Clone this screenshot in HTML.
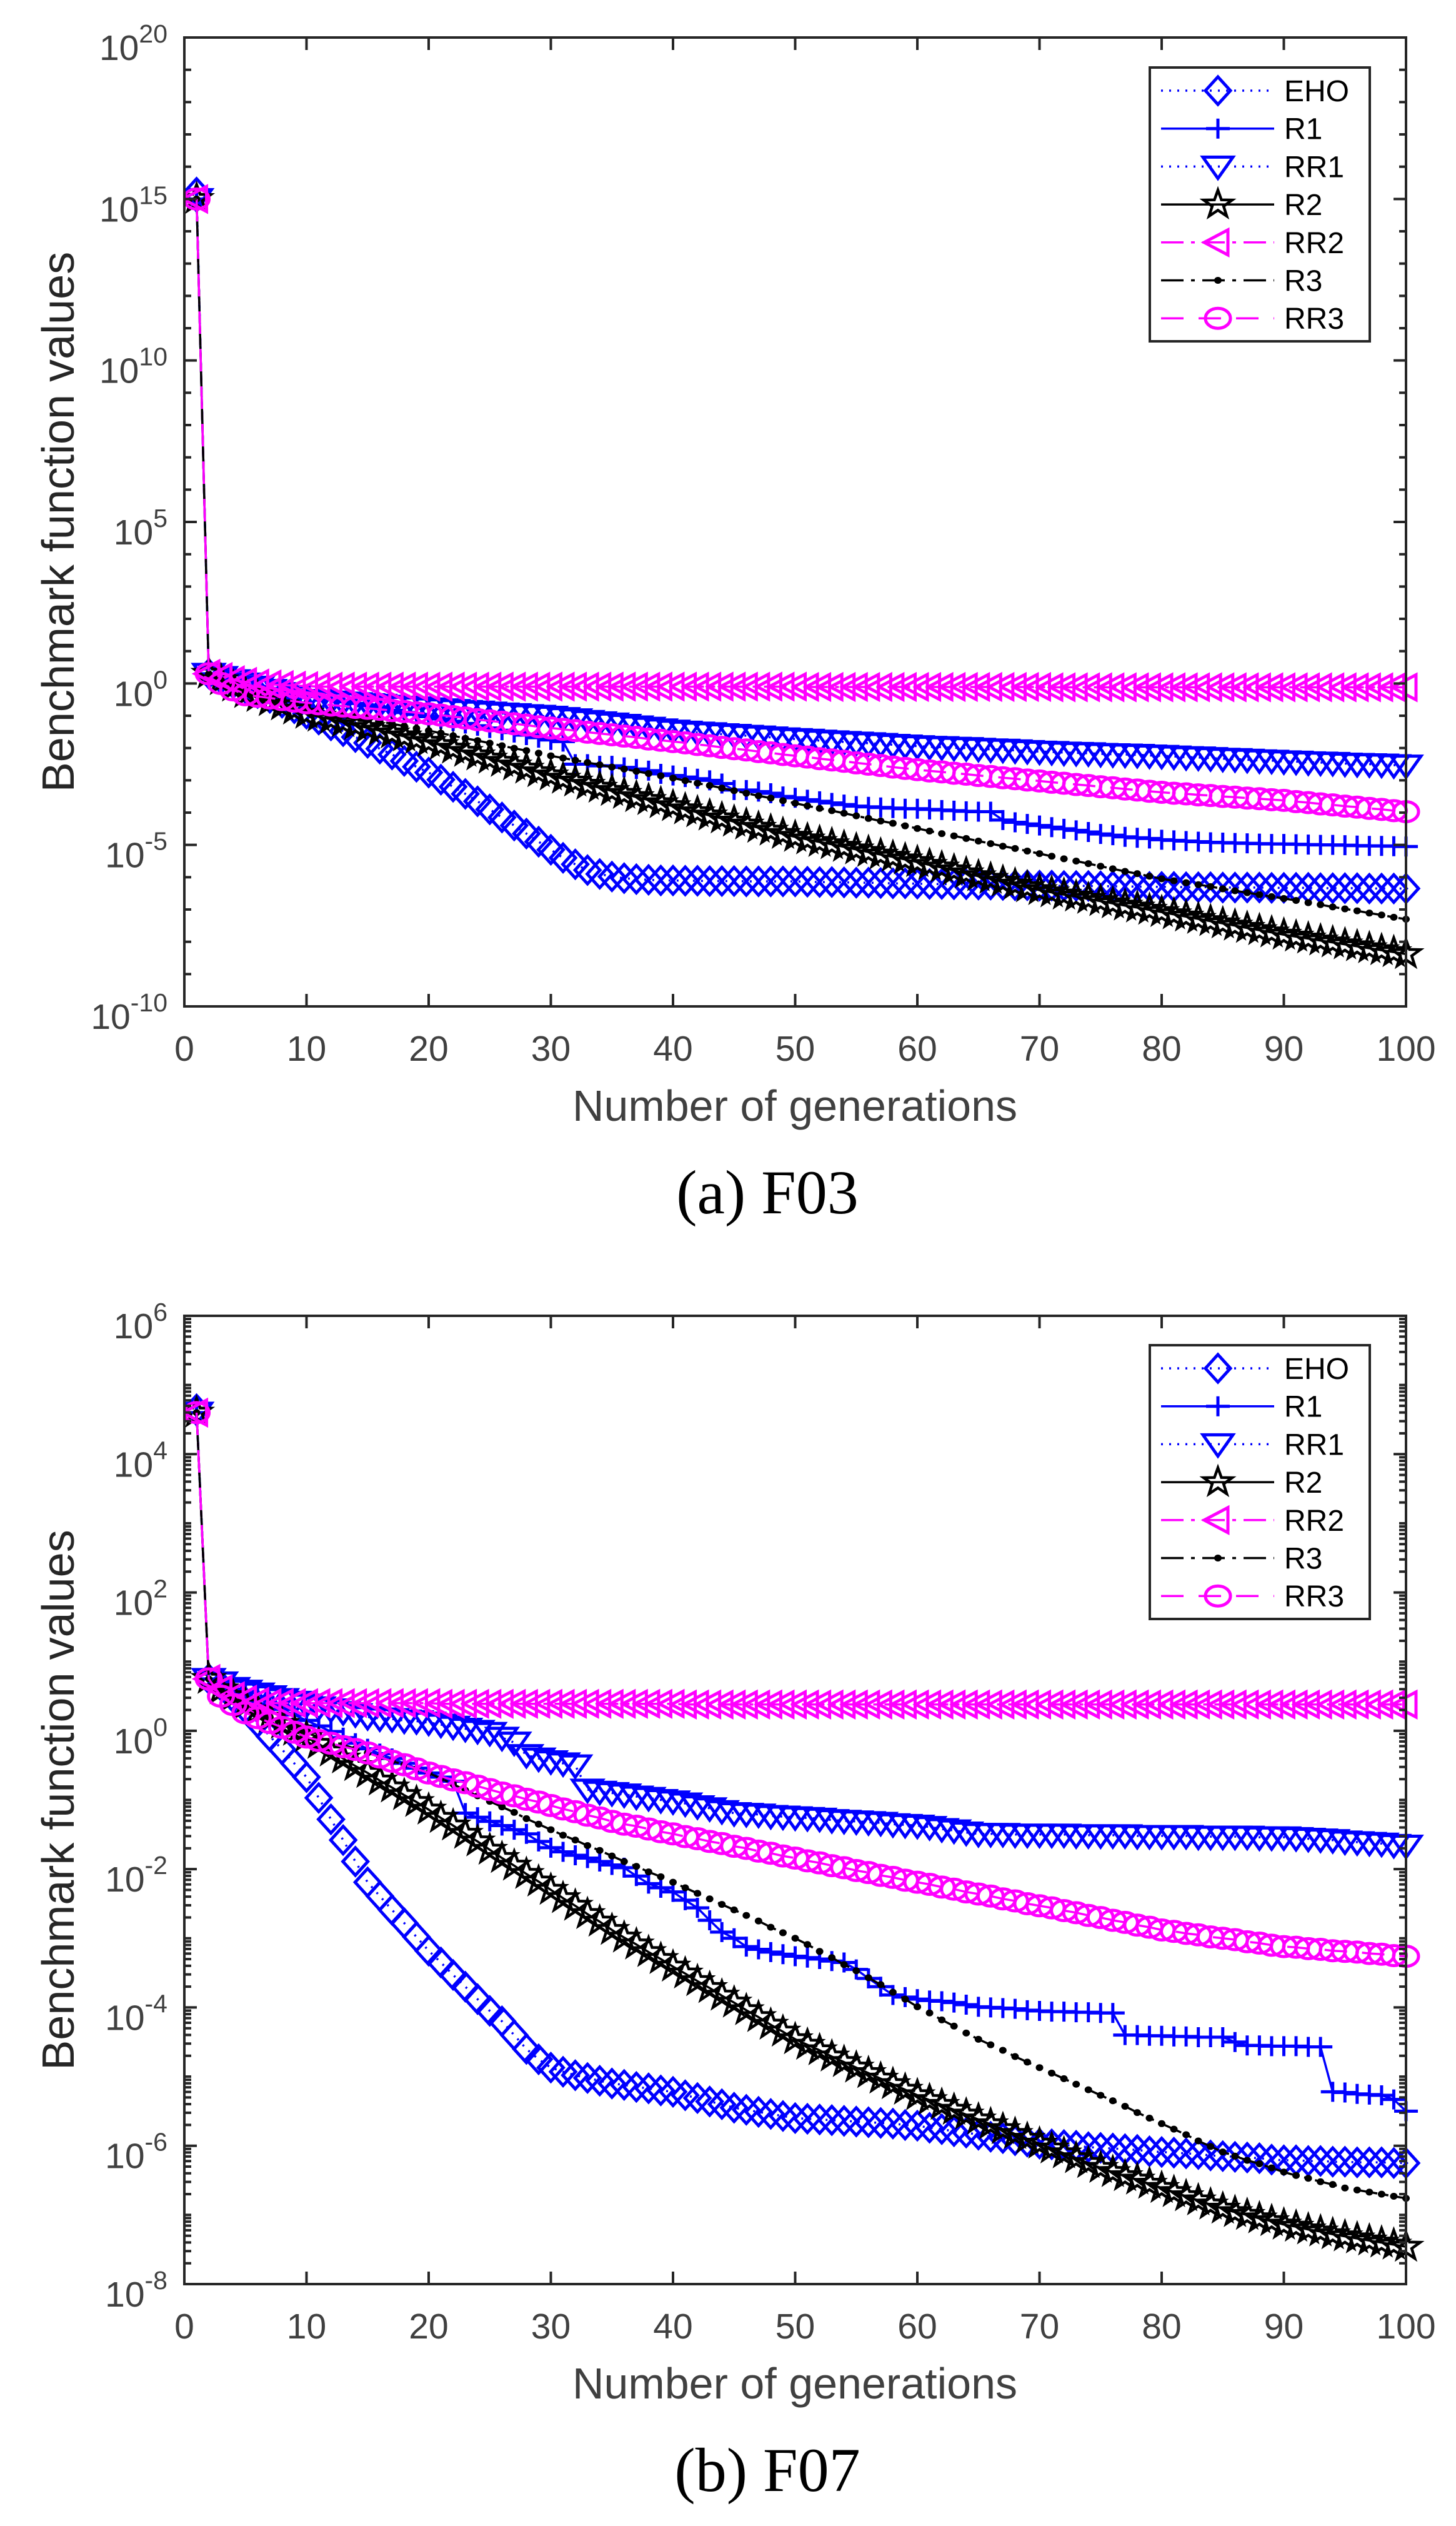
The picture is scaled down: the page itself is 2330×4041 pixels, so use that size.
<!DOCTYPE html>
<html>
<head>
<meta charset="utf-8">
<style>
html,body{margin:0;padding:0;background:#fff;}
svg{display:block;}
text{font-family:"Liberation Sans",Arial,sans-serif;}
text.serif{font-family:"Liberation Serif","Times New Roman",serif;}
</style>
</head>
<body>
<svg id="fig" width="2330" height="4041" viewBox="0 0 2330 4041" xmlns="http://www.w3.org/2000/svg"></svg>
<script>
// ---------- data (log10 of benchmark values, generations 1..100) ----------
const generations = Array.from({length:100},(_,i)=>i+1);
const seriesNames = ["EHO","R1","RR1","R2","RR2","R3","RR3"];

// F03
const f03_EHO = [15.2,0.3,0.15,0,-0.15,-0.3,-0.45,-0.6,-0.77,-0.94,-1.12,-1.3,-1.48,-1.66,-1.84,-2.02,-2.2,-2.4,-2.58,-2.76,-2.98,-3.2,-3.42,-3.65,-3.9,-4.15,-4.4,-4.65,-4.9,-5.15,-5.4,-5.6,-5.78,-5.9,-5.98,-6.03,-6.06,-6.08,-6.1,-6.1,-6.11,-6.11,-6.12,-6.12,-6.12,-6.13,-6.13,-6.13,-6.13,-6.13,-6.14,-6.15,-6.15,-6.16,-6.17,-6.17,-6.18,-6.19,-6.19,-6.2,-6.21,-6.21,-6.22,-6.22,-6.23,-6.23,-6.24,-6.25,-6.25,-6.26,-6.26,-6.27,-6.27,-6.27,-6.28,-6.28,-6.29,-6.29,-6.3,-6.3,-6.3,-6.31,-6.31,-6.31,-6.32,-6.32,-6.32,-6.32,-6.33,-6.33,-6.33,-6.33,-6.34,-6.34,-6.34,-6.34,-6.35,-6.35,-6.35,-6.35];
const f03_R1 = [15,0.3,0.2,0.05,-0.05,-0.1,-0.15,-0.2,-0.27,-0.34,-0.41,-0.48,-0.55,-0.62,-0.69,-0.76,-0.83,-0.9,-0.96,-1.03,-1.1,-1.17,-1.24,-1.31,-1.38,-1.45,-1.52,-1.6,-1.68,-1.75,-1.8,-2.5,-2.5,-2.55,-2.55,-2.6,-2.65,-2.7,-2.8,-2.85,-2.9,-2.95,-3,-3.1,-3.3,-3.3,-3.35,-3.4,-3.5,-3.54,-3.6,-3.65,-3.7,-3.75,-3.8,-3.82,-3.84,-3.86,-3.88,-3.88,-3.9,-3.92,-3.94,-3.96,-3.97,-3.97,-4.23,-4.3,-4.35,-4.4,-4.45,-4.5,-4.55,-4.6,-4.66,-4.7,-4.75,-4.78,-4.8,-4.84,-4.86,-4.88,-4.9,-4.92,-4.93,-4.94,-4.95,-4.96,-4.97,-4.97,-4.98,-4.99,-5,-5,-5.01,-5.02,-5.03,-5.03,-5.04,-5.05];
const f03_RR1 = [15,0.3,0.2,0.1,0,-0.1,-0.2,-0.3,-0.4,-0.51,-0.54,-0.56,-0.59,-0.61,-0.64,-0.66,-0.69,-0.72,-0.74,-0.77,-0.8,-0.82,-0.85,-0.87,-0.9,-0.93,-0.95,-0.98,-1,-1.03,-1.07,-1.11,-1.16,-1.2,-1.24,-1.28,-1.33,-1.37,-1.42,-1.46,-1.49,-1.52,-1.54,-1.57,-1.59,-1.62,-1.64,-1.67,-1.7,-1.72,-1.74,-1.77,-1.79,-1.81,-1.83,-1.85,-1.87,-1.9,-1.92,-1.94,-1.96,-1.97,-1.99,-2,-2.02,-2.04,-2.05,-2.07,-2.09,-2.11,-2.12,-2.14,-2.15,-2.16,-2.18,-2.19,-2.2,-2.21,-2.23,-2.24,-2.26,-2.28,-2.29,-2.31,-2.33,-2.34,-2.36,-2.38,-2.39,-2.41,-2.42,-2.44,-2.45,-2.46,-2.48,-2.49,-2.5,-2.51,-2.53,-2.54];
const f03_R2 = [15,0.3,0.1,-0.1,-0.3,-0.42,-0.55,-0.68,-0.81,-0.94,-1.03,-1.11,-1.2,-1.29,-1.38,-1.46,-1.55,-1.64,-1.72,-1.81,-1.91,-2.02,-2.12,-2.23,-2.33,-2.43,-2.54,-2.64,-2.75,-2.85,-2.95,-3.04,-3.14,-3.23,-3.33,-3.42,-3.52,-3.61,-3.71,-3.8,-3.9,-3.99,-4.09,-4.18,-4.28,-4.37,-4.47,-4.56,-4.66,-4.75,-4.83,-4.91,-4.98,-5.06,-5.14,-5.22,-5.3,-5.37,-5.45,-5.53,-5.62,-5.7,-5.79,-5.88,-5.97,-6.05,-6.14,-6.23,-6.31,-6.4,-6.47,-6.54,-6.6,-6.67,-6.74,-6.81,-6.88,-6.94,-7.01,-7.08,-7.15,-7.22,-7.29,-7.36,-7.43,-7.5,-7.57,-7.64,-7.71,-7.78,-7.84,-7.9,-7.96,-8.02,-8.08,-8.14,-8.2,-8.26,-8.32,-8.38];
const f03_RR2 = [15,0.3,0.2,0.1,0.05,0,-0.03,-0.05,-0.07,-0.08,-0.1,-0.1,-0.1,-0.1,-0.1,-0.1,-0.1,-0.1,-0.1,-0.1,-0.1,-0.1,-0.1,-0.1,-0.1,-0.1,-0.1,-0.1,-0.1,-0.1,-0.1,-0.1,-0.1,-0.1,-0.1,-0.1,-0.1,-0.1,-0.1,-0.1,-0.1,-0.1,-0.1,-0.1,-0.1,-0.1,-0.1,-0.1,-0.1,-0.1,-0.11,-0.11,-0.11,-0.11,-0.11,-0.11,-0.11,-0.11,-0.11,-0.11,-0.11,-0.11,-0.11,-0.11,-0.11,-0.11,-0.11,-0.11,-0.11,-0.11,-0.12,-0.12,-0.12,-0.12,-0.12,-0.12,-0.12,-0.12,-0.12,-0.12,-0.12,-0.12,-0.12,-0.12,-0.12,-0.12,-0.12,-0.12,-0.12,-0.12,-0.12,-0.12,-0.12,-0.12,-0.12,-0.12,-0.12,-0.12,-0.12,-0.12];
const f03_R3 = [15,0.3,0.1,-0.1,-0.25,-0.35,-0.45,-0.55,-0.66,-0.77,-0.84,-0.91,-0.98,-1.05,-1.12,-1.18,-1.25,-1.32,-1.39,-1.46,-1.54,-1.62,-1.7,-1.77,-1.85,-1.93,-2.01,-2.08,-2.16,-2.24,-2.31,-2.38,-2.45,-2.52,-2.59,-2.65,-2.72,-2.79,-2.86,-2.93,-3.01,-3.09,-3.16,-3.24,-3.32,-3.4,-3.48,-3.55,-3.63,-3.71,-3.79,-3.87,-3.94,-4.02,-4.1,-4.18,-4.26,-4.33,-4.41,-4.49,-4.57,-4.65,-4.72,-4.8,-4.88,-4.96,-5.04,-5.11,-5.19,-5.27,-5.35,-5.43,-5.5,-5.58,-5.66,-5.74,-5.82,-5.89,-5.97,-6.05,-6.11,-6.17,-6.23,-6.29,-6.36,-6.42,-6.48,-6.54,-6.6,-6.66,-6.72,-6.79,-6.85,-6.92,-6.98,-7.04,-7.11,-7.17,-7.24,-7.3];
const f03_RR3 = [15,0.3,0,-0.2,-0.35,-0.4,-0.45,-0.5,-0.55,-0.6,-0.63,-0.67,-0.7,-0.74,-0.77,-0.8,-0.84,-0.87,-0.91,-0.94,-0.98,-1.03,-1.07,-1.12,-1.16,-1.2,-1.25,-1.29,-1.34,-1.38,-1.42,-1.46,-1.51,-1.55,-1.59,-1.63,-1.67,-1.72,-1.76,-1.8,-1.84,-1.89,-1.93,-1.98,-2.02,-2.06,-2.11,-2.15,-2.2,-2.24,-2.28,-2.33,-2.37,-2.41,-2.46,-2.5,-2.54,-2.59,-2.63,-2.67,-2.71,-2.74,-2.78,-2.81,-2.85,-2.88,-2.92,-2.95,-2.99,-3.02,-3.06,-3.09,-3.13,-3.16,-3.2,-3.23,-3.27,-3.3,-3.34,-3.37,-3.4,-3.42,-3.45,-3.47,-3.5,-3.52,-3.55,-3.57,-3.6,-3.62,-3.66,-3.69,-3.73,-3.76,-3.8,-3.83,-3.87,-3.9,-3.94,-3.97];

// F07
const f07_EHO = [4.65,0.75,0.65,0.48,0.32,0.12,-0.08,-0.27,-0.47,-0.67,-0.97,-1.28,-1.58,-1.89,-2.19,-2.39,-2.59,-2.78,-2.98,-3.18,-3.35,-3.53,-3.7,-3.88,-4.05,-4.2,-4.4,-4.6,-4.75,-4.87,-4.93,-4.98,-5.02,-5.06,-5.1,-5.12,-5.15,-5.17,-5.2,-5.22,-5.27,-5.31,-5.36,-5.4,-5.45,-5.48,-5.51,-5.54,-5.57,-5.6,-5.61,-5.62,-5.63,-5.64,-5.65,-5.66,-5.67,-5.68,-5.7,-5.71,-5.74,-5.76,-5.79,-5.81,-5.84,-5.87,-5.89,-5.92,-5.94,-5.97,-5.98,-5.99,-6,-6.02,-6.03,-6.04,-6.05,-6.06,-6.08,-6.09,-6.1,-6.11,-6.12,-6.14,-6.15,-6.16,-6.17,-6.18,-6.2,-6.21,-6.21,-6.22,-6.22,-6.23,-6.23,-6.24,-6.24,-6.24,-6.25,-6.25];
const f07_R1 = [4.6,0.75,0.7,0.6,0.55,0.47,0.39,0.31,0.23,0.15,0.07,-0.01,-0.1,-0.18,-0.26,-0.33,-0.4,-0.47,-0.54,-0.61,-0.67,-0.73,-1.19,-1.25,-1.31,-1.37,-1.43,-1.49,-1.6,-1.69,-1.75,-1.8,-1.84,-1.89,-1.94,-1.98,-2.1,-2.21,-2.27,-2.33,-2.45,-2.56,-2.74,-2.91,-3,-3.12,-3.16,-3.2,-3.23,-3.26,-3.28,-3.3,-3.33,-3.35,-3.45,-3.58,-3.7,-3.82,-3.85,-3.88,-3.9,-3.91,-3.93,-3.96,-3.99,-4,-4.01,-4.02,-4.04,-4.05,-4.06,-4.06,-4.07,-4.07,-4.08,-4.08,-4.4,-4.4,-4.41,-4.41,-4.42,-4.42,-4.43,-4.43,-4.43,-4.5,-4.55,-4.55,-4.56,-4.56,-4.56,-4.57,-4.57,-5.22,-5.23,-5.25,-5.26,-5.27,-5.33,-5.5];
const f07_RR1 = [4.6,0.75,0.7,0.62,0.58,0.54,0.5,0.46,0.42,0.38,0.34,0.31,0.27,0.24,0.2,0.18,0.17,0.15,0.14,0.12,0.09,0.06,0.03,0,-0.03,-0.1,-0.17,-0.35,-0.4,-0.44,-0.47,-0.5,-0.85,-0.88,-0.9,-0.92,-0.95,-0.97,-1,-1.02,-1.05,-1.09,-1.12,-1.16,-1.19,-1.2,-1.21,-1.23,-1.24,-1.25,-1.26,-1.27,-1.29,-1.3,-1.31,-1.32,-1.33,-1.35,-1.36,-1.37,-1.39,-1.42,-1.44,-1.47,-1.49,-1.49,-1.49,-1.5,-1.5,-1.5,-1.5,-1.5,-1.51,-1.51,-1.51,-1.51,-1.51,-1.52,-1.52,-1.52,-1.52,-1.52,-1.53,-1.53,-1.53,-1.53,-1.53,-1.54,-1.54,-1.54,-1.55,-1.56,-1.57,-1.58,-1.6,-1.61,-1.62,-1.63,-1.65,-1.66];
const f07_R2 = [4.6,0.75,0.6,0.5,0.38,0.29,0.19,0.1,0,-0.09,-0.19,-0.3,-0.4,-0.51,-0.61,-0.72,-0.82,-0.93,-1.03,-1.14,-1.26,-1.37,-1.49,-1.6,-1.72,-1.84,-1.95,-2.07,-2.18,-2.3,-2.42,-2.53,-2.65,-2.76,-2.88,-2.99,-3.09,-3.2,-3.3,-3.41,-3.51,-3.62,-3.72,-3.83,-3.93,-4.04,-4.14,-4.25,-4.35,-4.46,-4.54,-4.62,-4.71,-4.79,-4.87,-4.95,-5.03,-5.11,-5.19,-5.27,-5.34,-5.41,-5.48,-5.55,-5.62,-5.69,-5.76,-5.83,-5.9,-5.97,-6.04,-6.11,-6.18,-6.25,-6.32,-6.38,-6.44,-6.49,-6.55,-6.61,-6.67,-6.73,-6.79,-6.85,-6.91,-6.96,-7,-7.05,-7.09,-7.14,-7.17,-7.21,-7.24,-7.28,-7.31,-7.34,-7.37,-7.4,-7.43,-7.46];
const f07_RR2 = [4.6,0.75,0.6,0.5,0.45,0.42,0.4,0.4,0.4,0.4,0.4,0.4,0.4,0.4,0.4,0.4,0.4,0.4,0.4,0.4,0.39,0.39,0.39,0.39,0.39,0.39,0.39,0.39,0.39,0.39,0.39,0.39,0.39,0.39,0.39,0.39,0.39,0.39,0.39,0.39,0.38,0.38,0.38,0.38,0.38,0.38,0.38,0.38,0.38,0.38,0.38,0.38,0.38,0.38,0.38,0.38,0.38,0.38,0.38,0.38,0.38,0.38,0.38,0.38,0.38,0.38,0.38,0.38,0.38,0.38,0.38,0.38,0.38,0.38,0.38,0.38,0.38,0.38,0.38,0.38,0.38,0.38,0.38,0.38,0.38,0.38,0.38,0.38,0.38,0.38,0.38,0.38,0.38,0.38,0.38,0.38,0.38,0.38,0.38,0.38];
const f07_R3 = [4.6,0.75,0.6,0.45,0.35,0.27,0.2,0.12,0.05,-0.03,-0.09,-0.15,-0.2,-0.26,-0.32,-0.38,-0.44,-0.49,-0.55,-0.61,-0.69,-0.77,-0.86,-0.94,-1.02,-1.1,-1.18,-1.27,-1.35,-1.43,-1.51,-1.58,-1.66,-1.73,-1.81,-1.89,-1.96,-2.04,-2.11,-2.19,-2.27,-2.35,-2.43,-2.51,-2.59,-2.67,-2.75,-2.84,-2.92,-3,-3.09,-3.19,-3.28,-3.38,-3.47,-3.57,-3.67,-3.78,-3.88,-3.99,-4.08,-4.18,-4.27,-4.37,-4.46,-4.54,-4.62,-4.71,-4.79,-4.87,-4.95,-5.03,-5.11,-5.19,-5.27,-5.35,-5.43,-5.52,-5.6,-5.68,-5.76,-5.84,-5.93,-6.01,-6.09,-6.15,-6.21,-6.26,-6.32,-6.38,-6.43,-6.47,-6.52,-6.56,-6.61,-6.64,-6.67,-6.7,-6.73,-6.76];
const f07_RR3 = [4.6,0.75,0.5,0.38,0.26,0.19,0.12,0.05,-0.02,-0.09,-0.14,-0.18,-0.23,-0.27,-0.32,-0.38,-0.44,-0.49,-0.55,-0.61,-0.66,-0.71,-0.75,-0.8,-0.85,-0.9,-0.94,-0.99,-1.03,-1.08,-1.13,-1.17,-1.22,-1.26,-1.31,-1.35,-1.38,-1.42,-1.46,-1.49,-1.53,-1.56,-1.6,-1.63,-1.67,-1.7,-1.74,-1.77,-1.81,-1.84,-1.88,-1.91,-1.95,-1.98,-2.02,-2.05,-2.09,-2.12,-2.16,-2.19,-2.22,-2.26,-2.29,-2.33,-2.36,-2.39,-2.43,-2.46,-2.5,-2.53,-2.56,-2.6,-2.63,-2.67,-2.7,-2.74,-2.77,-2.81,-2.84,-2.88,-2.9,-2.93,-2.95,-2.98,-3,-3.02,-3.05,-3.07,-3.1,-3.12,-3.13,-3.15,-3.16,-3.18,-3.19,-3.2,-3.22,-3.23,-3.25,-3.26];

const xTickLabels = [0,10,20,30,40,50,60,70,80,90,100];
const f03_yTickExps = [20,15,10,5,0,-5,-10];
const f07_yTickExps = [6,4,2,0,-2,-4,-6,-8];

// ---------- drawing ----------
const NS = "http://www.w3.org/2000/svg";
const svg = document.getElementById('fig');
function mk(tag, attrs, parent){
  const e = document.createElementNS(NS, tag);
  for (const k in attrs) e.setAttribute(k, attrs[k]);
  (parent||svg).appendChild(e);
  return e;
}
const styles = {
  EHO:{color:"#0000ff", dash:"3 10", marker:"diamond"},
  R1:{color:"#0000ff", dash:"", marker:"plus"},
  RR1:{color:"#0000ff", dash:"3 10", marker:"tridown"},
  R2:{color:"#000000", dash:"", marker:"star"},
  RR2:{color:"#ff00ff", dash:"36 12 6 12", marker:"trileft"},
  R3:{color:"#000000", dash:"36 12 6 12", marker:"dot"},
  RR3:{color:"#ff00ff", dash:"36 24", marker:"circle"}
};
function markerEl(type, x, y, color, parent){
  let e;
  const sw = 5;
  if (type==="diamond"){
    e = mk('polygon',{points:`${x-20},${y} ${x},${y-22} ${x+20},${y} ${x},${y+22}`,fill:"none",stroke:color,"stroke-width":sw},parent);
  } else if (type==="plus"){
    e = mk('path',{d:`M${x-19},${y}H${x+19}M${x},${y-16}V${y+16}`,fill:"none",stroke:color,"stroke-width":sw},parent);
  } else if (type==="tridown"){
    e = mk('polygon',{points:`${x-24},${y-15} ${x+24},${y-15} ${x},${y+19}`,fill:"none",stroke:color,"stroke-width":sw},parent);
  } else if (type==="trileft"){
    e = mk('polygon',{points:`${x-22},${y} ${x+16},${y-20} ${x+16},${y+20}`,fill:"none",stroke:color,"stroke-width":sw},parent);
  } else if (type==="circle"){
    e = mk('ellipse',{cx:x,cy:y,rx:20,ry:16,fill:"none",stroke:color,"stroke-width":sw},parent);
  } else if (type==="dot"){
    e = mk('ellipse',{cx:x,cy:y,rx:6,ry:5.5,fill:color,stroke:"none"},parent);
  } else {
    let p=[];
    for(let i=0;i<10;i++){
      const a = -Math.PI/2 + i*Math.PI/5;
      const r = i%2===0?1:0.4;
      p.push((x+24*r*Math.cos(a)).toFixed(1)+","+(y+23*r*Math.sin(a)).toFixed(1));
    }
    e = mk('polygon',{points:p.join(" "),fill:"none",stroke:color,"stroke-width":4.5},parent);
  }
  return e;
}

function drawChart(cfg){
  const g = mk('g',{});
  
  
  const L=295, R=2250, T=cfg.top, B=cfg.bottom;
  const xS = v => L + (v-0)/(100-0)*(R-L);
  const yS = lv => B - (lv-cfg.ymin)/(cfg.ymax-cfg.ymin)*(B-T);

  const cid = 'clip'+cfg.id;
  const defs = mk('defs',{},g);
  const cp = mk('clipPath',{id:cid},defs);
  mk('rect',{x:L,y:T,width:R-L+30,height:B-T},cp);

  const plot = mk('g',{'clip-path':`url(#${cid})`},g);
  
  
  seriesNames.forEach(name=>{
    const vals = cfg.data[name];
    const st = styles[name];
    const sg = mk('g',{},plot);
    
    
    const pts = vals.map((v,i)=>xS(generations[i]).toFixed(1)+","+yS(v).toFixed(1)).join(" ");
    const line = mk('polyline',{points:pts,fill:"none",stroke:st.color,"stroke-width":3.5,"stroke-dasharray":st.dash},sg);
    
    
    vals.forEach((v,i)=>{
      const m = markerEl(st.marker, xS(generations[i]), yS(v), st.color, sg);
      
      
    });
  });

  const ax = mk('g',{stroke:"#262626","stroke-width":4,fill:"none"},g);
  
  
  mk('rect',{x:L,y:T,width:R-L,height:B-T},ax);
  xTickLabels.forEach(v=>{
    const x = xS(v);
    mk('line',{x1:x,y1:B,x2:x,y2:B-20},ax);
    mk('line',{x1:x,y1:T,x2:x,y2:T+20},ax);
    const t = mk('text',{x:x,y:B+87,"text-anchor":"middle","font-size":57,fill:"#404040"},g);
    t.textContent = v;
    
    
  });
  for(let d=cfg.ymin; d<=cfg.ymax; d++){
    const y = yS(d);
    const len = cfg.tickExps.includes(d)?20:11;
    mk('line',{x1:L,y1:y,x2:L+len,y2:y},ax);
    mk('line',{x1:R,y1:y,x2:R-len,y2:y},ax);
    if (cfg.minor && d<cfg.ymax){
      for(let k=2;k<=9;k++){
        const ym = yS(d+Math.log10(k));
        mk('line',{x1:L,y1:ym,x2:L+11,y2:ym},ax);
        mk('line',{x1:R,y1:ym,x2:R-11,y2:ym},ax);
      }
    }
  }
  cfg.tickExps.forEach(e=>{
    const y = yS(e);
    const t = mk('text',{x:268,y:y+36,"text-anchor":"end","font-size":57,fill:"#404040"},g);
    
    
    t.appendChild(document.createTextNode("10"));
    const ts = mk('tspan',{dy:-28,"font-size":41},t);
    ts.textContent = String(e);
  });

  const xt = mk('text',{x:1272,y:B+183,"text-anchor":"middle","font-size":70,fill:"#404040"},g);
  xt.textContent = "Number of generations";
  
  
  const cy = (T+B)/2;
  const yt = mk('text',{x:0,y:0,"text-anchor":"middle","font-size":72,fill:"#262626",transform:`translate(118,${cy}) rotate(-90)`},g);
  yt.textContent = "Benchmark function values";
  
  
  const cap = mk('text',{x:1228,y:B+331,"text-anchor":"middle","font-size":100,fill:"#000","class":"serif"},g);
  cap.textContent = cfg.caption;
  
  

  const lg = mk('g',{},g);
  
  
  const lt = cfg.legendTop;
  mk('rect',{x:1840,y:lt,width:352,height:438,fill:"#fff",stroke:"#262626","stroke-width":4},lg);
  seriesNames.forEach((name,i)=>{
    const y = lt+37+i*60.7;
    const st = styles[name];
    const row = mk('g',{},lg);
    
    
    mk('line',{x1:1858,y1:y,x2:2039,y2:y,stroke:st.color,"stroke-width":3.5,"stroke-dasharray":st.dash},row);
    markerEl(st.marker, 1949, y, st.color, row);
    const t = mk('text',{x:2055,y:y+17,"font-size":48,fill:"#000"},row);
    t.textContent = name;
  });
}

drawChart({id:1,name:"chart-f03",top:60,bottom:1610,ymin:-10,ymax:20,tickExps:f03_yTickExps,minor:false,caption:"(a) F03",legendTop:108,
  data:{EHO:f03_EHO,R1:f03_R1,RR1:f03_RR1,R2:f03_R2,RR2:f03_RR2,R3:f03_R3,RR3:f03_RR3}});
drawChart({id:2,name:"chart-f07",top:2105,bottom:3654,ymin:-8,ymax:6,tickExps:f07_yTickExps,minor:true,caption:"(b) F07",legendTop:2152,
  data:{EHO:f07_EHO,R1:f07_R1,RR1:f07_RR1,R2:f07_R2,RR2:f07_RR2,R3:f07_R3,RR3:f07_RR3}});
</script>
</body>
</html>
